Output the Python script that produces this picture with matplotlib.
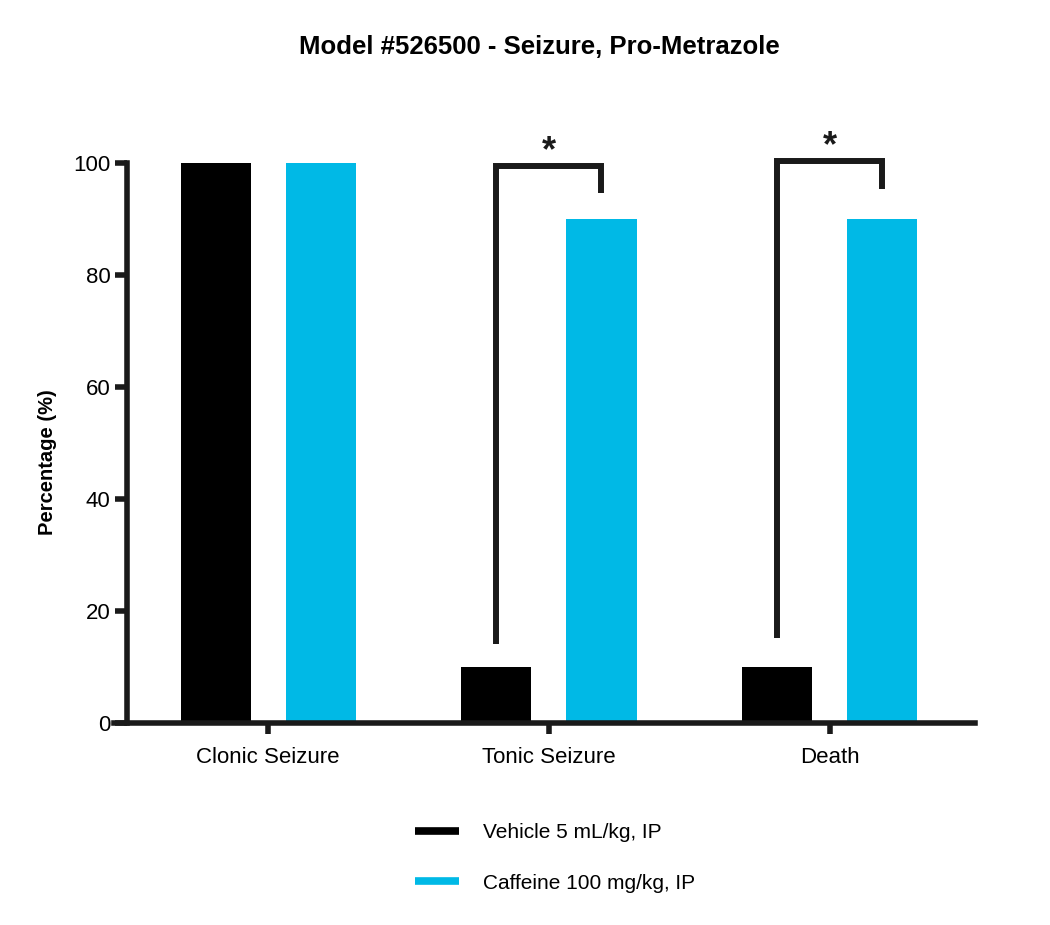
import numpy as np
import matplotlib
matplotlib.use('Agg')
import matplotlib.pyplot as plt
from matplotlib.lines import Line2D

plt.rcParams['font.family'] = ['Liberation Sans', 'DejaVu Sans']

# Data
categories = ['Clonic Seizure', 'Tonic Seizure', 'Death']
vehicle = [100, 10, 10]
caffeine = [100, 90, 90]
series_labels = ['Vehicle 5 mL/kg, IP', 'Caffeine 100 mg/kg, IP']
y_ticks = [0, 20, 40, 60, 80, 100]

# significance brackets: (category index, left bottom, top, right bottom)
brackets = [(1, 14.1, 99.4, 94.6), (2, 15.2, 100.4, 95.4)]

black = '#000000'
cyan = '#00B9E6'
line_col = '#1a1a1a'

fig = plt.figure(figsize=(10.5, 9.25), dpi=100)
ax = fig.add_axes([0.121, 0.2184, 0.808, 0.6054])

x = np.arange(len(categories))
w = 0.25
off = 0.1875
ax.bar(x - off, vehicle, w, color=black)
ax.bar(x + off, caffeine, w, color=cyan)

ax.set_xlim(-0.503, 2.52)
ax.set_ylim(0, 100)
ax.set_yticks(y_ticks)
ax.set_xticks(x)
ax.set_xticklabels(categories)

for s in ['top', 'right']:
    ax.spines[s].set_visible(False)
ax.spines['left'].set_linewidth(4)
ax.spines['bottom'].set_linewidth(4)
ax.spines['left'].set_color(line_col)
ax.spines['bottom'].set_color(line_col)
ax.spines['bottom'].set_bounds(-0.55, 2.52)
ax.tick_params(axis='y', length=9, width=4, color=line_col, labelsize=16, pad=3)
ax.tick_params(axis='x', length=8, width=4, color=line_col, labelsize=16, pad=9)

ax.set_ylabel('Percentage (%)', fontsize=14.5, fontweight='bold')
ax.yaxis.set_label_coords(-0.082, 0.466)

for i, lb, top, rb in brackets:
    ax.plot([i - off, i - off, i + off, i + off], [lb, top, top, rb],
            color=line_col, lw=4.3, clip_on=False, solid_joinstyle='miter',
            solid_capstyle='butt')
    ax.text(i, top + 2.6, '*', ha='center', va='center', fontsize=26,
            fontweight='bold', color=line_col, clip_on=False)

fig.text(0.514, 0.949, 'Model #526500 - Seizure, Pro-Metrazole', ha='center',
         va='center', fontsize=18.5, fontweight='bold')

handles = [Line2D([0], [0], color=black, lw=5.5, solid_capstyle='butt'),
           Line2D([0], [0], color=cyan, lw=5.5, solid_capstyle='butt')]
fig.legend(handles, series_labels, loc='upper left', bbox_to_anchor=(0.3775, 0.130),
           frameon=False, fontsize=15, handlelength=2.1, handletextpad=1.15,
           labelspacing=1.5)

fig.savefig('out.png', dpi=100)
